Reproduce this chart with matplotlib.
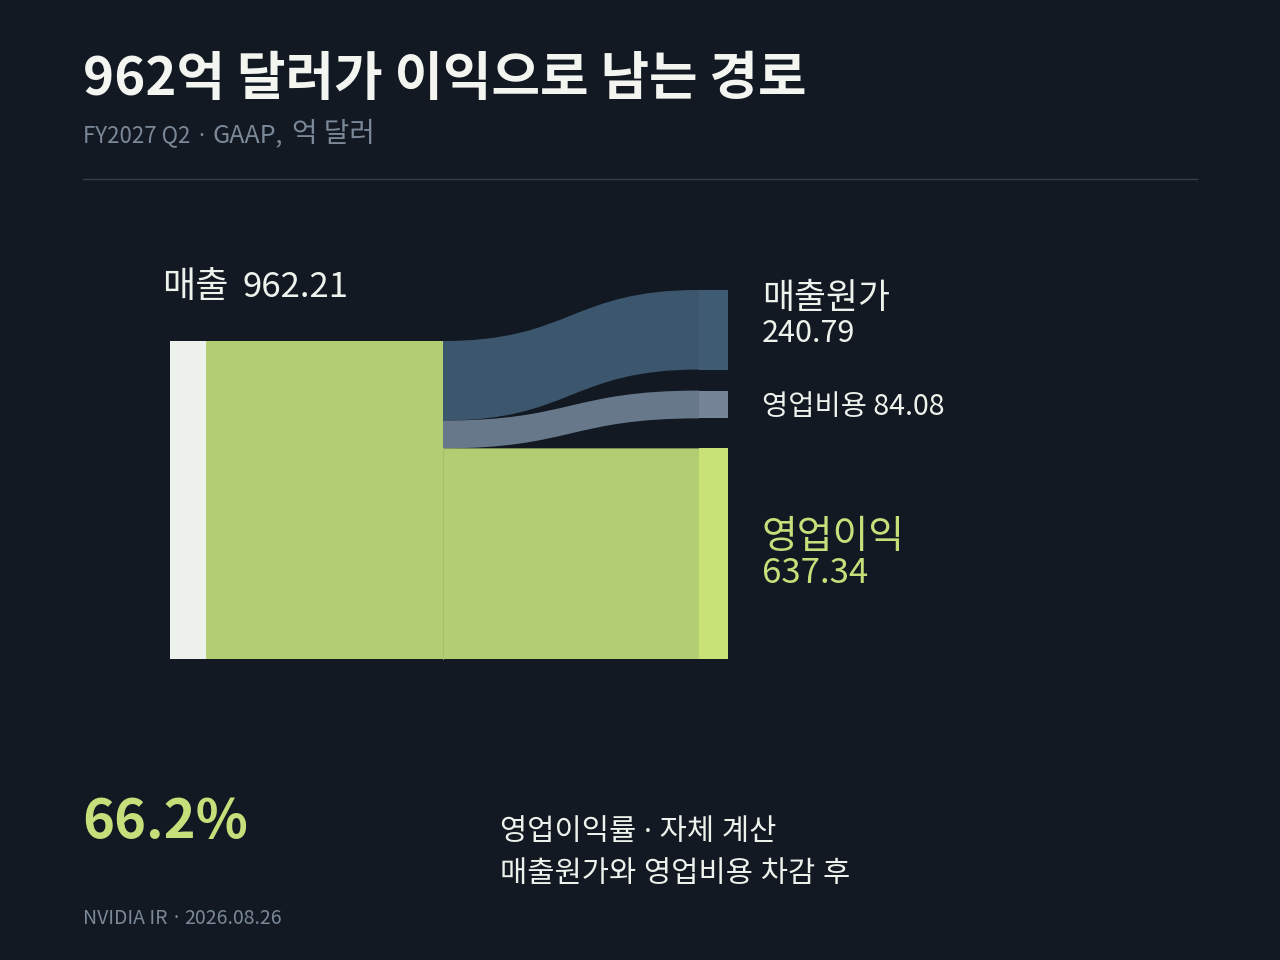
import matplotlib
matplotlib.use("Agg")
import matplotlib.pyplot as plt
from matplotlib.path import Path
from matplotlib.patches import PathPatch, Rectangle

KR = ['Noto Sans CJK KR', 'DejaVu Sans']
KR_DOT = ['Noto Sans', 'Noto Sans CJK KR']   # narrow middle dot / spaces
plt.rcParams['font.family'] = KR

# data (억 달러)
revenue = 962.21
cost_names = ['매출원가', '영업비용']
cost_values = [240.79, 84.08]
op_income = 637.34
margin_label = '66.2%'

BG = '#121922'
FG = '#eef2ec'
MUTED = '#7b8897'
GREEN = '#b3cd72'
GREEN_NODE = '#c8e278'
GREEN_TXT = '#c5e07a'
flow_colors = ['#3c576d', '#66788a']
node_colors = ['#405c74', '#758597']

fig = plt.figure(figsize=(12.8, 9.6), dpi=100)
fig.patch.set_facecolor(BG)
ax = fig.add_axes([0, 0, 1, 1])
ax.set_xlim(0, 1280)
ax.set_ylim(960, 0)
ax.axis('off')


def chain(x, y, parts, color):
    # parts: (text, fontsize, family, gap in px before)
    prev = None
    for s, size, fam, gap in parts:
        if prev is None:
            prev = ax.text(x, y, s, color=color, fontsize=size, family=fam,
                           va='baseline', ha='left')
        else:
            prev = ax.annotate(s, xy=(1, y), xycoords=(prev, 'data'),
                               xytext=(gap * 0.72, 0), textcoords='offset points',
                               color=color, fontsize=size, family=fam,
                               va='baseline', ha='left')
    return prev


# sankey layout (pixel space)
top = 341
k = 318 / revenue          # px per 억 달러
left_x, left_w = 170, 36
split_x = 443
right_x, right_w = 699, 29
gaps = [21, 30]            # gap below COGS, gap below opex

rev_h = revenue * k
ax.add_patch(Rectangle((left_x, top), left_w, rev_h, color=FG, lw=0))
ax.add_patch(Rectangle((left_x + left_w, top), split_x - left_x - left_w, rev_h,
                       color=GREEN, lw=0))


def flow(y0a, y0b, y1a, y1b, color):
    xm = (split_x + right_x) / 2
    verts = [(split_x, y0a), (xm, y0a), (xm, y1a), (right_x, y1a),
             (right_x, y1b), (xm, y1b), (xm, y0b), (split_x, y0b), (split_x, y0a)]
    codes = [Path.MOVETO, Path.CURVE4, Path.CURVE4, Path.CURVE4,
             Path.LINETO, Path.CURVE4, Path.CURVE4, Path.CURVE4, Path.CLOSEPOLY]
    ax.add_patch(PathPatch(Path(verts, codes), facecolor=color, edgecolor='none'))


src = [top]
for v in cost_values + [op_income]:
    src.append(src[-1] + v * k)

oi_top = src[-2]
oi_bot = oi_top + op_income * k
opex_bot = oi_top - gaps[1]
opex_top = opex_bot - cost_values[1] * k
cogs_bot = opex_top - gaps[0]
cogs_top = cogs_bot - cost_values[0] * k
dst = [(cogs_top, cogs_bot), (opex_top, opex_bot)]

for i in range(2):
    flow(src[i], src[i + 1], dst[i][0], dst[i][1], flow_colors[i])
    ax.add_patch(Rectangle((right_x, dst[i][0]), right_w, dst[i][1] - dst[i][0],
                           color=node_colors[i], lw=0))
flow(oi_top, oi_bot, oi_top, oi_bot, GREEN)
ax.plot([split_x, split_x], [oi_top, oi_bot], color='#a3bc66', lw=0.6)
ax.add_patch(Rectangle((right_x, oi_top), right_w, oi_bot - oi_top, color=GREEN_NODE, lw=0))

# node labels
chain(162, top - 44, [('매출', 26, KR, 0), (f'{revenue:.2f}', 25, KR, 14)], FG)

lx = right_x + right_w + 34
cogs_c = (cogs_top + cogs_bot) / 2
ax.text(lx, cogs_c - 22, cost_names[0], color=FG, fontsize=25, va='baseline', ha='left')
ax.text(lx, cogs_c + 12, f'{cost_values[0]:.2f}', color=FG, fontsize=22,
        va='baseline', ha='left')
ax.text(lx, (opex_top + opex_bot) / 2 + 3, f'{cost_names[1]} {cost_values[1]:.2f}',
        color=FG, fontsize=20.5, va='center', ha='left')
oi_c = (oi_top + oi_bot) / 2
ax.text(lx, oi_c - 6, '영업이익', color=GREEN_TXT, fontsize=28, va='baseline', ha='left')
ax.text(lx, oi_c + 29, f'{op_income:.2f}', color=GREEN_TXT, fontsize=25,
        va='baseline', ha='left')

# header
ax.text(83, 95, '962억 달러가 이익으로 남는 경로', color='#f2f5f0', fontsize=38,
        fontweight='bold', va='baseline', ha='left')
chain(83, 142, [('FY2027 Q2', 16, KR, 0), ('·', 16, KR_DOT, 8),
                ('GAAP,', 18, KR, 8), ('억 달러', 20, KR, 9)], MUTED)
ax.plot([83, 1197], [178.5, 178.5], color='#363e48', lw=1)

# bottom stats
ax.text(82, 838, margin_label, color=GREEN_TXT, fontsize=39, fontweight='bold',
        va='baseline', ha='left')
ax.text(500, 832, '영업이익률 · 자체 계산', color=FG, fontsize=21.3, family=KR_DOT,
        va='center', ha='left')
ax.text(500, 874, '매출원가와 영업비용 차감 후', color=FG, fontsize=21.3, family=KR_DOT,
        va='center', ha='left')
chain(83, 924, [('NVIDIA IR', 14, KR, 0), ('·', 14, KR_DOT, 6),
                ('2026.08.26', 14, KR, 6)], MUTED)

fig.savefig('out.png', dpi=100, facecolor=BG)
